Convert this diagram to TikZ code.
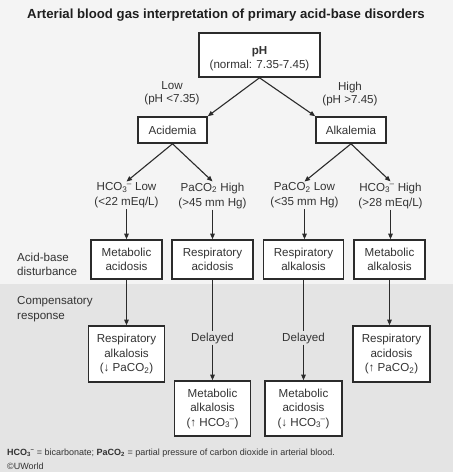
\documentclass[tikz,border=0pt]{standalone}
\usepackage{fontspec}
\setmainfont{Liberation Sans}
\usetikzlibrary{arrows.meta}
\definecolor{bgtop}{HTML}{F4F4F4}
\definecolor{bgband}{HTML}{E4E4E4}
\definecolor{ink}{HTML}{2B2B2B}
\definecolor{txt}{HTML}{333333}
\newcommand\hcothree{HCO\textsubscript{3}\kern-0.05em\textsuperscript{–}}
\newcommand\pacotwo{PaCO\textsubscript{2}}
\begin{document}
\begin{tikzpicture}[x=1pt,y=-1pt,
  box/.style={draw=ink, line width=1.6pt, fill=white, align=center, inner sep=0pt,
    text=txt, font=\fontsize{11.6}{13.5}\selectfont},
  box3/.style={box, font=\fontsize{11.6}{14.5}\selectfont},
  lbl/.style={align=center, inner sep=1pt, text=txt, font=\fontsize{11.6}{14}\selectfont},
  side/.style={align=left, anchor=west, inner sep=1pt, text=txt, font=\fontsize{11.6}{14.5}\selectfont},
  arr/.style={draw=ink, line width=1.1pt, -{Triangle[length=5.5pt,width=4.5pt]}},
  ln/.style={draw=ink, line width=1.1pt},
  foot/.style={anchor=west, inner sep=0pt, text=txt, font=\fontsize{9}{10}\selectfont}]

\fill[bgtop] (0,0) rectangle (453,472);
\fill[bgband] (0,284) rectangle (453,472);
\useasboundingbox (0,0) rectangle (453,472);

% title
\node[font=\bfseries\fontsize{13.2}{15}\selectfont, text=black!88, inner sep=0pt] (title) at (226,15)
  {Arterial blood gas interpretation of primary acid-base disorders};

% top
\node[box, minimum width=121pt, minimum height=44pt, font=\fontsize{11.6}{13}\selectfont] (ph) at (259.5,55)
  {\raisebox{-4pt}[\height][\depth]{\begin{tabular}{@{}c@{}}\textbf{pH}\\[1.5pt](normal: 7.35-7.45)\end{tabular}}};
\node[lbl, font=\fontsize{11.6}{13}\selectfont] (low) at (172,93.5) {Low\\(pH <7.35)};
\node[lbl, font=\fontsize{11.6}{13}\selectfont] (high) at (350,93.5) {High\\(pH >7.45)};

\node[box, minimum width=69pt, minimum height=26pt] (aci) at (172.5,130) {Acidemia};
\node[box, minimum width=70pt, minimum height=26pt] (alk) at (351,130) {Alkalemia};

\draw[arr] (ph.south) -- (aci.north east);
\draw[arr] (ph.south) -- (alk.north west);

% criteria
\node[lbl, font=\fontsize{11.6}{15}\selectfont] (hl) at (126.5,195.5) {\hcothree\ Low\\(<22 mEq/L)};
\node[lbl, font=\fontsize{11.6}{15}\selectfont] (ph2) at (212.5,195.5) {\pacotwo\ High\\(>45 mm Hg)};
\node[lbl, font=\fontsize{11.6}{15}\selectfont] (pl) at (304.5,195.5) {\pacotwo\ Low\\(<35 mm Hg)};
\node[lbl, font=\fontsize{11.6}{15}\selectfont] (hh) at (390.5,195.5) {\hcothree\ High\\(>28 mEq/L)};

\draw[arr] (aci.south) -- (hl.north);
\draw[arr] (aci.south) -- (ph2.north);
\draw[arr] (alk.south) -- (pl.north);
\draw[arr] (alk.south) -- (hh.north);

% disturbances
\node[box, minimum width=71pt, minimum height=39pt] (b1) at (126.5,259.5) {Metabolic\\acidosis};
\node[box, minimum width=81pt, minimum height=39pt] (b2) at (212.5,259.5) {Respiratory\\acidosis};
\node[box, minimum width=80pt, minimum height=39pt] (b3) at (303.5,259.5) {Respiratory\\alkalosis};
\node[box, minimum width=71pt, minimum height=39pt] (b4) at (389.5,259.5) {Metabolic\\alkalosis};

\draw[arr] (hl.south) -- (hl.south |- b1.north);
\draw[arr] (ph2.south) -- (ph2.south |- b2.north);
\draw[arr] (pl.south) -- (pl.south |- b3.north);
\draw[arr] (hh.south) -- (hh.south |- b4.north);

% side labels
\node[side] (abd) at (16,264.5) {Acid-base\\disturbance};
\node[side] (cr) at (16,309) {Compensatory\\response};

% compensation
\node[box3, minimum width=76pt, minimum height=56pt] (b5) at (126.5,354) {Respiratory\\alkalosis\\(↓ \pacotwo)};
\node[box3, minimum width=77pt, minimum height=56pt] (b8) at (391.5,354) {Respiratory\\acidosis\\(↑ \pacotwo)};
\node[lbl] (d1) at (212.5,338) {Delayed};
\node[lbl] (d2) at (303.5,338) {Delayed};
\node[box3, minimum width=76pt, minimum height=55pt] (b6) at (212.5,408.5) {Metabolic\\alkalosis\\(↑ \hcothree)};
\node[box3, minimum width=77pt, minimum height=55pt] (b7) at (303.5,408.5) {Metabolic\\acidosis\\(↓ \hcothree)};

\draw[arr] (b1.south) -- (b1.south |- b5.north);
\draw[arr] (b4.south) -- (b4.south |- b8.north);
\draw[ln] (b2.south) -- (b2.south |- d1.north);
\draw[arr] (d1.south) -- (d1.south |- b6.north);
\draw[ln] (b3.south) -- (b3.south |- d2.north);
\draw[arr] (d2.south) -- (d2.south |- b7.north);

% footer
\node[foot] (fn) at (7,453) {\textbf{\hcothree} = bicarbonate; \textbf{\pacotwo} = partial pressure of carbon dioxide in arterial blood.};
\node[foot] (copy) at (7,466.5) {©UWorld};
\end{tikzpicture}
\end{document}
